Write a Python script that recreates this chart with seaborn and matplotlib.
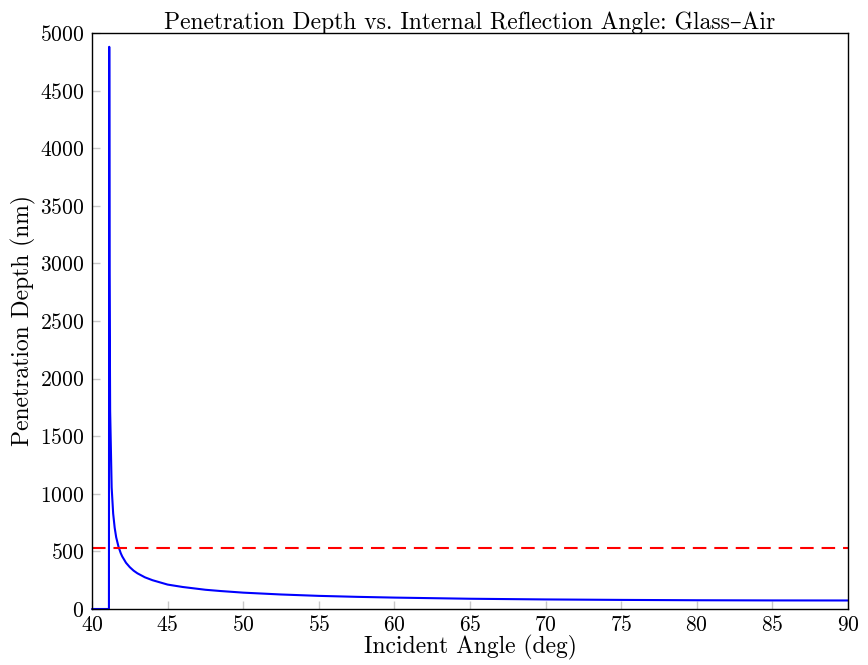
import matplotlib
matplotlib.use("Agg")
import matplotlib.pyplot as plt
import seaborn as sns
import pandas as pd

# Data
angle_deg = [40.0, 41.12, 41.14, 41.16, 41.2, 41.3, 41.4, 41.5, 41.6, 41.75, 41.9, 42.0,
             42.25, 42.5, 42.75, 43.0, 43.5, 44.0, 45.0, 46.0, 47.5, 48.5, 50.0,
             52.5, 55.0, 57.5, 60.0, 65.0, 70.0, 75.0, 80.0, 85.0, 90.0]
depth_nm = [0, 0, 4880, 2920, 1720, 1055, 828, 705, 622, 542, 485, 456,
            401, 363, 333, 310, 275, 250, 212, 191, 167, 156, 142,
            126, 114, 105.6, 99, 89, 83, 79, 76, 74.5, 74]
wavelength_nm = [532]

title = "Penetration Depth vs. Internal Reflection Angle: Glass\u2013Air"
xlabel = "Incident Angle (deg)"
ylabel = "Penetration Depth (nm)"
xticks = [40, 45, 50, 55, 60, 65, 70, 75, 80, 85, 90]
yticks = [0, 500, 1000, 1500, 2000, 2500, 3000, 3500, 4000, 4500, 5000]

sns.set_style("white")
plt.rcParams['font.family'] = ['cmr10', 'DejaVu Serif']
plt.rcParams['axes.formatter.use_mathtext'] = True
plt.rcParams['mathtext.fontset'] = 'cm'
plt.rcParams['text.color'] = 'black'
plt.rcParams['axes.labelcolor'] = 'black'
plt.rcParams['xtick.labelcolor'] = 'black'
plt.rcParams['ytick.labelcolor'] = 'black'

df = pd.DataFrame({"angle": angle_deg, "depth": depth_nm})

fig = plt.figure(figsize=(8.68, 6.65), dpi=100)
ax = fig.add_axes([92/868, 1-609/665, (848-92)/868, (609-33)/665])

sns.lineplot(data=df, x="angle", y="depth", ax=ax, color=(0, 0, 1), lw=1.5,
             estimator=None, sort=False, clip_on=False)
ax.axhline(wavelength_nm[0], color=(1, 0, 0), lw=1.5, dashes=(6.5, 3.8))

ax.set_xlim(40, 90)
ax.set_ylim(0, 5000)
ax.set_xticks(xticks)
ax.set_yticks(yticks)
ax.tick_params(direction='in', length=6, width=1, color='#c8c8c8',
               labelsize=15.5, top=False, right=False,
               bottom=True, left=True, labelcolor='black')
ax.tick_params(axis='x', pad=4.5)
ax.tick_params(axis='y', pad=5.5)
for s in ax.spines.values():
    s.set_color('black')
    s.set_linewidth(1.0)

ax.set_title(title, fontsize=17, pad=3, color='black')
ax.set_xlabel(xlabel, fontsize=17, labelpad=0, color='black')
ax.set_ylabel(ylabel, fontsize=17, labelpad=3, color='black')

fig.savefig("out.png", dpi=100)
